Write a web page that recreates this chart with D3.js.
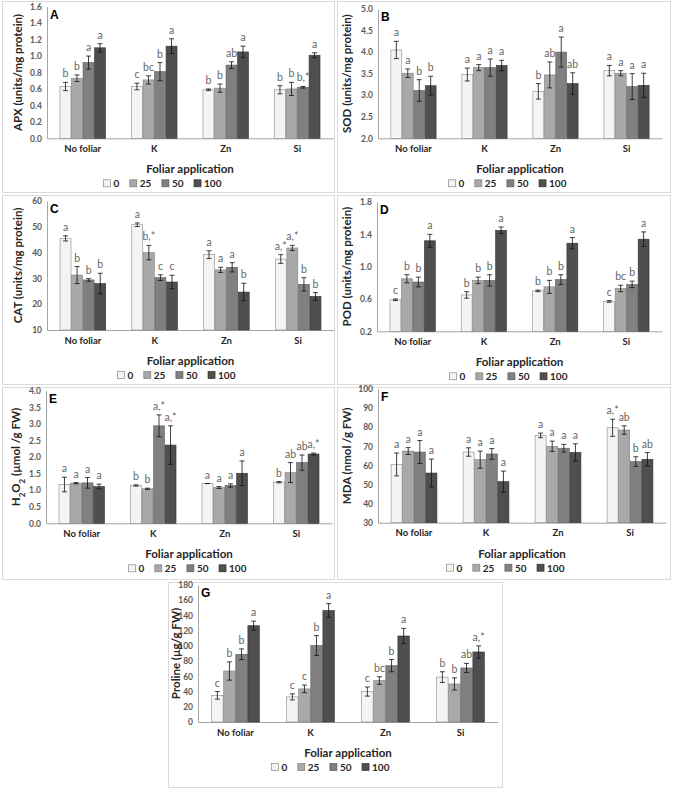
<!DOCTYPE html>
<html><head><meta charset="utf-8">
<script src="https://cdn.jsdelivr.net/npm/d3@7"></script>
<style>body{margin:0;background:#fff} svg{display:block}</style>
</head><body><svg id="c" width="673" height="789"></svg>
<script>
const categories = ["No foliar","K","Zn","Si"];
const doses = ["0","25","50","100"];
const doseFill = ["#f4f4f4","#a9a9a9","#808080","#4f4f4f"];
const doseStroke = ["#8a8a8a","#808080","#5e5e5e","#333333"];

const apxTicks = [0,0.2,0.4,0.6,0.8,1.0,1.2,1.4,1.6];
const apxMeans = [[0.63,0.73,0.92,1.10],[0.63,0.71,0.81,1.12],[0.59,0.61,0.89,1.05],[0.59,0.60,0.62,1.01]];
const apxErrors = [[0.05,0.04,0.08,0.05],[0.04,0.05,0.11,0.09],[0.01,0.05,0.04,0.07],[0.05,0.08,0.01,0.03]];
const apxLetters = [["b","b","a","a"],["c","bc","b","a"],["b","b","ab","a"],["b","b","b,*","a"]];

const sodTicks = [2.0,2.5,3.0,3.5,4.0,4.5,5.0];
const sodMeans = [[4.05,3.51,3.11,3.22],[3.48,3.64,3.64,3.69],[3.09,3.47,4.0,3.27],[3.57,3.51,3.2,3.23]];
const sodErrors = [[0.2,0.1,0.25,0.22],[0.15,0.07,0.2,0.12],[0.18,0.3,0.35,0.25],[0.12,0.06,0.3,0.28]];
const sodLetters = [["a","a","b","b"],["a","a","a","a"],["b","ab","a","ab"],["a","a","a","a"]];

const catTicks = [10,20,30,40,50,60];
const catMeans = [[45.5,31.3,29.4,28],[50.8,40,30.3,28.6],[39.2,33.3,34.3,24.7],[37.5,41.8,27.7,23]];
const catErrors = [[1,3.3,0.5,4],[0.7,2.8,1.1,2.6],[1.5,1,1.8,3.4],[1.7,1,2.6,1.5]];
const catLetters = [["a","b","b","b"],["a","b,*","c","c"],["a","a","a","b"],["a,*","a,*","b","b"]];

const podTicks = [0.2,0.6,1.0,1.4,1.8];
const podMeans = [[0.59,0.85,0.81,1.32],[0.65,0.83,0.83,1.45],[0.70,0.75,0.84,1.29],[0.57,0.73,0.78,1.34]];
const podErrors = [[0.01,0.05,0.06,0.08],[0.04,0.04,0.07,0.04],[0.01,0.08,0.06,0.07],[0.01,0.04,0.04,0.09]];
const podLetters = [["c","b","b","a"],["b","b","b","a"],["b","b","b","a"],["c","bc","b","a"]];

const h2o2Ticks = [0,0.5,1.0,1.5,2.0,2.5,3.0,3.5,4.0];
const h2o2Means = [[1.17,1.21,1.22,1.11],[1.14,1.04,2.94,2.36],[1.20,1.08,1.14,1.51],[1.24,1.53,1.83,2.09]];
const h2o2Errors = [[0.22,0.02,0.16,0.07],[0.02,0.02,0.33,0.58],[0,0.03,0.05,0.37],[0.02,0.3,0.23,0.03]];
const h2o2Letters = [["a","a","a","a"],["b","b","a,*","a,*"],["a","a","a","a"],["b","ab","ab","a,*"]];

const mdaTicks = [30,40,50,60,70,80,90,100];
const mdaMeans = [[60.5,67.5,67,56],[67,63,66,51.5],[75.7,70,69,66.8],[79.7,78.5,62,63.2]];
const mdaErrors = [[6,1.8,6,7.3],[2.2,4.5,2.8,5.5],[1.2,2.7,2,4.5],[4.5,2.2,2.5,3.5]];
const mdaLetters = [["a","a","a","a"],["a","a","a","a"],["a","a","a","a"],["a,*","ab","b","ab"]];

const proTicks = [0,20,40,60,80,100,120,140,160,180];
const proMeans = [[35,67,89,126.5],[33,43.5,100.5,146.5],[40,54.5,74,113],[59,50,71,92]];
const proErrors = [[5,12,7,6],[4,5,13,9],[6,5,8,10],[7,8,6,8]];
const proLetters = [["c","b","b","a"],["c","c","b","a"],["c","bc","b","a"],["b","b","ab","a,*"]];

const panels = [
  {id:"A", title:[["APX (units/mg protein)"]], ticks:apxTicks, fmt:".1f", means:apxMeans, errors:apxErrors, letters:apxLetters,
   box:[2,1,332,191], plot:[47,333,6.7,138.3], titleX:22, legendX:103},
  {id:"B", title:[["SOD (units/mg protein)"]], ticks:sodTicks, fmt:".1f", means:sodMeans, errors:sodErrors, letters:sodLetters,
   box:[337,1,333,191], plot:[378,662,9,138.3], titleX:351, legendX:448},
  {id:"C", title:[["CAT (units/mg protein)"]], ticks:catTicks, fmt:"d", means:catMeans, errors:catErrors, letters:catLetters,
   box:[2,195,332,189], plot:[47,334,201,330], titleX:22, legendX:117},
  {id:"D", title:[["POD (units/mg protein)"]], ticks:podTicks, fmt:".1f", means:podMeans, errors:podErrors, letters:podLetters,
   box:[337,195,333,189], plot:[377,662,202,331.3], titleX:351, legendX:449},
  {id:"E", title:[["H"],["2","sub"],["O"],["2","sub"],[" (µmol /g FW)"]], ticks:h2o2Ticks, fmt:".1f", means:h2o2Means, errors:h2o2Errors, letters:h2o2Letters,
   box:[2,387,332,192], plot:[46,332,390.7,523.3], titleX:20, legendX:128},
  {id:"F", title:[["MDA (nmol /g FW)"]], ticks:mdaTicks, fmt:"d", means:mdaMeans, errors:mdaErrors, letters:mdaLetters,
   box:[337,387,333,192], plot:[378,666,389,522.7], titleX:351, legendX:446},
  {id:"G", title:[["Proline (µg/g FW)"]], ticks:proTicks, fmt:"d", means:proMeans, errors:proErrors, letters:proLetters,
   box:[168,582,334,205], plot:[198,498,585,722], titleX:180, legendX:271}
];

const FONT = "Lato, 'Open Sans', sans-serif";
const svg = d3.select("#c");

panels.forEach(p => {
  const g = svg.append("g");
  g.append("rect").attr("x", p.box[0]+0.5).attr("y", p.box[1]+0.5)
    .attr("width", p.box[2]).attr("height", p.box[3])
    .attr("fill", "#fff").attr("stroke", "#d9d9d9").attr("stroke-width", 1);

  const [L, R, T, B] = p.plot;
  const y = d3.scaleLinear().domain(d3.extent(p.ticks)).range([B, T]);
  const x0 = d3.scaleBand().domain(categories).range([L, R]);
  const gw = x0.bandwidth() * 0.645;
  const x1 = d3.scaleBand().domain(doses).range([0, gw]);

  const ya = g.append("g").attr("transform", `translate(${L},0)`)
    .call(d3.axisLeft(y).tickValues(p.ticks).tickFormat(d3.format(p.fmt)).tickSize(0).tickPadding(5));
  ya.select(".domain").attr("stroke", "#a6a6a6").attr("stroke-width", 1);
  ya.selectAll("text").attr("font-family", FONT).attr("font-size", 8.5).attr("font-weight", 700).attr("fill", "#595959");

  const xa = g.append("g").attr("transform", `translate(0,${B})`)
    .call(d3.axisBottom(x0).tickSize(0).tickPadding(7));
  xa.select(".domain").attr("stroke", "#a6a6a6").attr("stroke-width", 1);
  xa.selectAll("text").attr("font-family", FONT).attr("font-size", 9.5).attr("font-weight", 700).attr("fill", "#262626");

  const recs = [];
  categories.forEach((c, i) => doses.forEach((d, j) => {
    recs.push({c, d, j, m: p.means[i][j], e: p.errors[i][j], l: p.letters[i][j]});
  }));
  const bx = r => x0(r.c) + (x0.bandwidth() - gw) / 2 + x1(r.d);
  const bw = x1.bandwidth();

  g.append("g").selectAll("rect").data(recs).join("rect")
    .attr("x", r => bx(r) + 0.3).attr("y", r => y(r.m))
    .attr("width", bw - 0.6).attr("height", r => B - y(r.m))
    .attr("fill", r => doseFill[r.j]).attr("stroke", r => doseStroke[r.j]).attr("stroke-width", 0.6);

  const eb = g.append("g").attr("stroke", "#111").attr("stroke-width", 0.8);
  recs.forEach(r => {
    const cx = bx(r) + bw / 2;
    const y1 = y(r.m + r.e), y2 = y(r.m - r.e);
    eb.append("line").attr("x1", cx).attr("x2", cx).attr("y1", y1).attr("y2", y2);
    eb.append("line").attr("x1", cx - 2.5).attr("x2", cx + 2.5).attr("y1", y1).attr("y2", y1);
    eb.append("line").attr("x1", cx - 2.5).attr("x2", cx + 2.5).attr("y1", y2).attr("y2", y2);
  });

  g.append("g").selectAll("text").data(recs).join("text")
    .attr("x", r => bx(r) + bw / 2).attr("y", r => y(r.m + r.e) - 5)
    .attr("text-anchor", "middle").attr("font-family", FONT).attr("font-size", 10.5)
    .attr("fill", "#666666").text(r => r.l);

  g.append("text").attr("x", L + 3).attr("y", T + 12).attr("font-family", "'Liberation Sans', Arial, sans-serif")
    .attr("font-size", 12).attr("font-weight", 700).attr("fill", "#000").text(p.id);

  const yt = g.append("text").attr("transform", `translate(${p.titleX},${(T + B) / 2}) rotate(-90)`)
    .attr("text-anchor", "middle").attr("font-family", FONT).attr("font-size", 11.5).attr("font-weight", 700).attr("fill", "#262626");
  p.title.forEach(([t, k]) => {
    const ts = yt.append("tspan").text(t);
    if (k === "sub") ts.attr("baseline-shift", "sub").attr("font-size", 8);
  });

  g.append("text").attr("x", (L + R) / 2).attr("y", B + 35).attr("text-anchor", "middle")
    .attr("font-family", FONT).attr("font-size", 11.5).attr("font-weight", 700).attr("fill", "#262626")
    .text("Foliar application");

  const lg = g.append("g").attr("transform", `translate(${p.legendX},${B + 45})`);
  let cur = 0;
  doses.forEach((d, j) => {
    lg.append("rect").attr("x", cur + 0.5).attr("y", -3.5).attr("width", 7).attr("height", 7)
      .attr("fill", doseFill[j]).attr("stroke", doseStroke[j]).attr("stroke-width", 0.7);
    const t = lg.append("text").attr("x", cur + 10.5).attr("y", 3.8).attr("font-family", FONT)
      .attr("font-size", 10).attr("font-weight", 700).attr("fill", "#262626").text(d);
    cur += 10.5 + t.node().getComputedTextLength() + 10;
  });
});
</script></body></html>
